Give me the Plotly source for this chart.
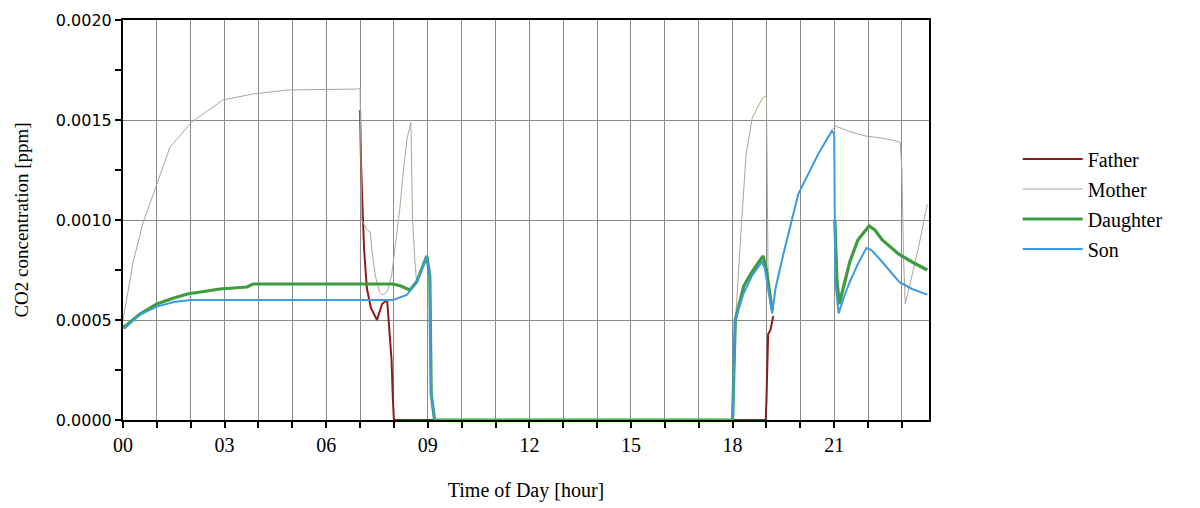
import plotly.graph_objects as go

# ---------------- data (hour of day, CO2 concentration) ----------------
father_t = [7.0, 7.03, 7.08, 7.12, 7.2, 7.32, 7.5, 7.65, 7.8, 7.88, 7.93, 7.97, 8.0,
            9.0, 12.0, 15.0, 18.0, 18.98, 19.0, 19.05, 19.12, 19.2]
father_v = [0.00155, 0.00128, 0.00103, 0.00085, 0.00066, 0.00056, 0.00050, 0.00058, 0.00060,
            0.00043, 0.00030, 0.00010, 0.0,
            0.0, 0.0, 0.0, 0.0, 0.0, 0.00010, 0.00043, 0.00045, 0.00052]

mother_t = [0.0, 0.3, 0.59, 1.0, 1.39, 2.03, 2.95, 3.84, 4.84, 6.93, 7.0,
            7.05, 7.2, 7.3, 7.35, 7.45, 7.58, 7.67, 7.8, 7.93, 8.02, 8.17, 8.27, 8.38, 8.5,
            8.55, 8.62, 8.67, 8.82, 8.97, 9.06, 9.1, 9.2, 12.0, 15.0, 18.0,
            18.05, 18.15, 18.27, 18.4, 18.58, 18.88, 19.0, 19.05, 19.17, 19.27, 19.5, 19.94,
            20.53, 20.93, 21.03, 21.5, 21.93, 22.4, 22.95, 23.0, 23.05, 23.1, 23.3, 23.5, 23.75]
mother_v = [0.00050, 0.00079, 0.000985, 0.00118, 0.001365, 0.00149, 0.00160, 0.00163, 0.00165,
            0.001655, 0.00166,
            0.00100, 0.00095, 0.00094, 0.00085, 0.00072, 0.00064, 0.000625, 0.00064, 0.00072,
            0.00085, 0.00105, 0.00123, 0.00140, 0.00149,
            0.00100, 0.00079, 0.00069, 0.00075, 0.00082, 0.00072, 0.00013, 0.0, 0.0, 0.0, 0.0,
            0.00040, 0.00070, 0.00100, 0.00133, 0.00151, 0.00161, 0.00162, 0.00070, 0.000533,
            0.00066, 0.00083, 0.00113,
            0.00133, 0.001445, 0.00147, 0.00144, 0.00142, 0.00141, 0.00139, 0.00125, 0.00080,
            0.00058, 0.00072, 0.00087, 0.00108]

daughter_t = [0.0, 0.06, 0.5, 1.0, 1.5, 1.9, 2.86, 3.66, 3.84, 7.97, 8.2, 8.47,
              8.67, 8.82, 8.97, 9.06, 9.1, 9.2, 12.0, 15.0, 18.0,
              18.08, 18.33, 18.57, 18.9, 19.0, 19.12, 19.17, 19.2,
              21.02, 21.08, 21.15, 21.3, 21.46, 21.7, 22.03, 22.2, 22.42, 22.9, 23.3, 23.75]
daughter_v = [0.00047, 0.000468, 0.00053, 0.00058, 0.00061, 0.00063, 0.000655, 0.000665,
              0.00068, 0.00068, 0.00067, 0.00065,
              0.00069, 0.00075, 0.00082, 0.00072, 0.00013, 0.0, 0.0, 0.0, 0.0,
              0.00050, 0.00067, 0.00074, 0.00082, 0.00075, 0.00060, 0.00055, None,
              0.00100, 0.00070, 0.00058, 0.00068, 0.00079, 0.00090, 0.00097, 0.00095,
              0.00090, 0.00083, 0.00079, 0.00075]

son_t = [0.0, 0.06, 0.5, 1.0, 1.5, 1.9, 2.0, 7.97, 8.38, 8.67, 8.82, 8.97, 9.06, 9.08,
         9.1, 9.2, 12.0, 15.0, 18.0,
         18.08, 18.33, 18.57, 18.86, 18.95, 19.12, 19.17, 19.27, 19.5, 19.94, 20.53, 20.93,
         21.0, 21.03, 21.13, 21.3, 21.46, 21.7, 21.95, 22.1, 22.42, 22.92, 23.3, 23.75]
son_v = [0.00046, 0.00046, 0.000527, 0.000567, 0.00059, 0.000596, 0.00060, 0.00060, 0.000625,
         0.00069, 0.00075, 0.00082, 0.00072, 0.00043,
         0.00013, 0.0, 0.0, 0.0, 0.0,
         0.00050, 0.000635, 0.00072, 0.00079, 0.00076, 0.00060, 0.000533, 0.00066, 0.00083,
         0.00113, 0.00133, 0.001445,
         0.00143, 0.00070, 0.000533, 0.00062, 0.00069, 0.00078, 0.00086, 0.00085, 0.00079,
         0.00069, 0.000655, 0.000627]

x_tick_vals = [0, 3, 6, 9, 12, 15, 18, 21]
x_tick_text = ["00", "03", "06", "09", "12", "15", "18", "21"]
y_tick_vals = [0.0, 0.0005, 0.0010, 0.0015, 0.0020]
y_tick_text = ["0.0000", "0.0005", "0.0010", "0.0015", "0.0020"]

series = [
    ("Father", father_t, father_v, "#8E1B1B", 2),
    ("Mother", mother_t, mother_v, "#A8A89A", 1),
    ("Daughter", daughter_t, daughter_v, "#3E9B3E", 3.2),
    ("Son", son_t, son_v, "#3D9BE0", 2),
]

fig = go.Figure()
for name, t, v, color, w in series:
    fig.add_trace(go.Scatter(
        x=t, y=v, name=name, mode="lines", legendgroup=name,
        line=dict(color=color, width=w), connectgaps=False,
    ))

grid = "#8a8a8a"
fig.update_layout(
    width=1200, height=508,
    margin=dict(l=115, r=279, t=12, b=96, autoexpand=False),
    paper_bgcolor="white", plot_bgcolor="white",
    font=dict(family="Liberation Serif", color="black"),
    legend=dict(
        x=1.11, y=0.54, xanchor="left", yanchor="middle",
        font=dict(family="Liberation Serif", size=20, color="black"),
        tracegroupgap=1, itemwidth=60, bgcolor="rgba(0,0,0,0)",
    ),
    xaxis=dict(
        range=[0, 23.8], automargin=False,
        tickvals=x_tick_vals, ticktext=x_tick_text,
        tickfont=dict(family="Liberation Serif", size=20, color="black"),
        ticks="outside", ticklen=6, tickwidth=2, tickcolor="black",
        showgrid=True, gridcolor=grid, gridwidth=1,
        minor=dict(dtick=1, tick0=0, showgrid=True, gridcolor=grid, gridwidth=1,
                   ticks="outside", ticklen=6, tickwidth=2, tickcolor="black"),
        showline=True, linecolor="black", linewidth=2, mirror=True,
        zeroline=False,
        title=dict(text="Time of Day [hour]", standoff=28,
                   font=dict(family="Liberation Serif", size=20, color="black")),
    ),
    yaxis=dict(
        range=[0, 0.002], automargin=False, ticklabeloverflow="allow",
        tickvals=y_tick_vals, ticktext=y_tick_text,
        tickfont=dict(family="DejaVu Sans", size=16, color="black"),
        ticks="outside", ticklen=6, tickwidth=2, tickcolor="black",
        showgrid=True, gridcolor=grid, gridwidth=1,
        minor=dict(dtick=0.00025, tick0=0, showgrid=False,
                   ticks="outside", ticklen=6, tickwidth=2, tickcolor="black"),
        showline=True, linecolor="black", linewidth=2, mirror=True,
        zeroline=False,
        title=dict(text="CO2 concentration [ppm]", standoff=22,
                   font=dict(family="Liberation Serif", size=19, color="black")),
    ),
)

fig.write_html("out.html")
